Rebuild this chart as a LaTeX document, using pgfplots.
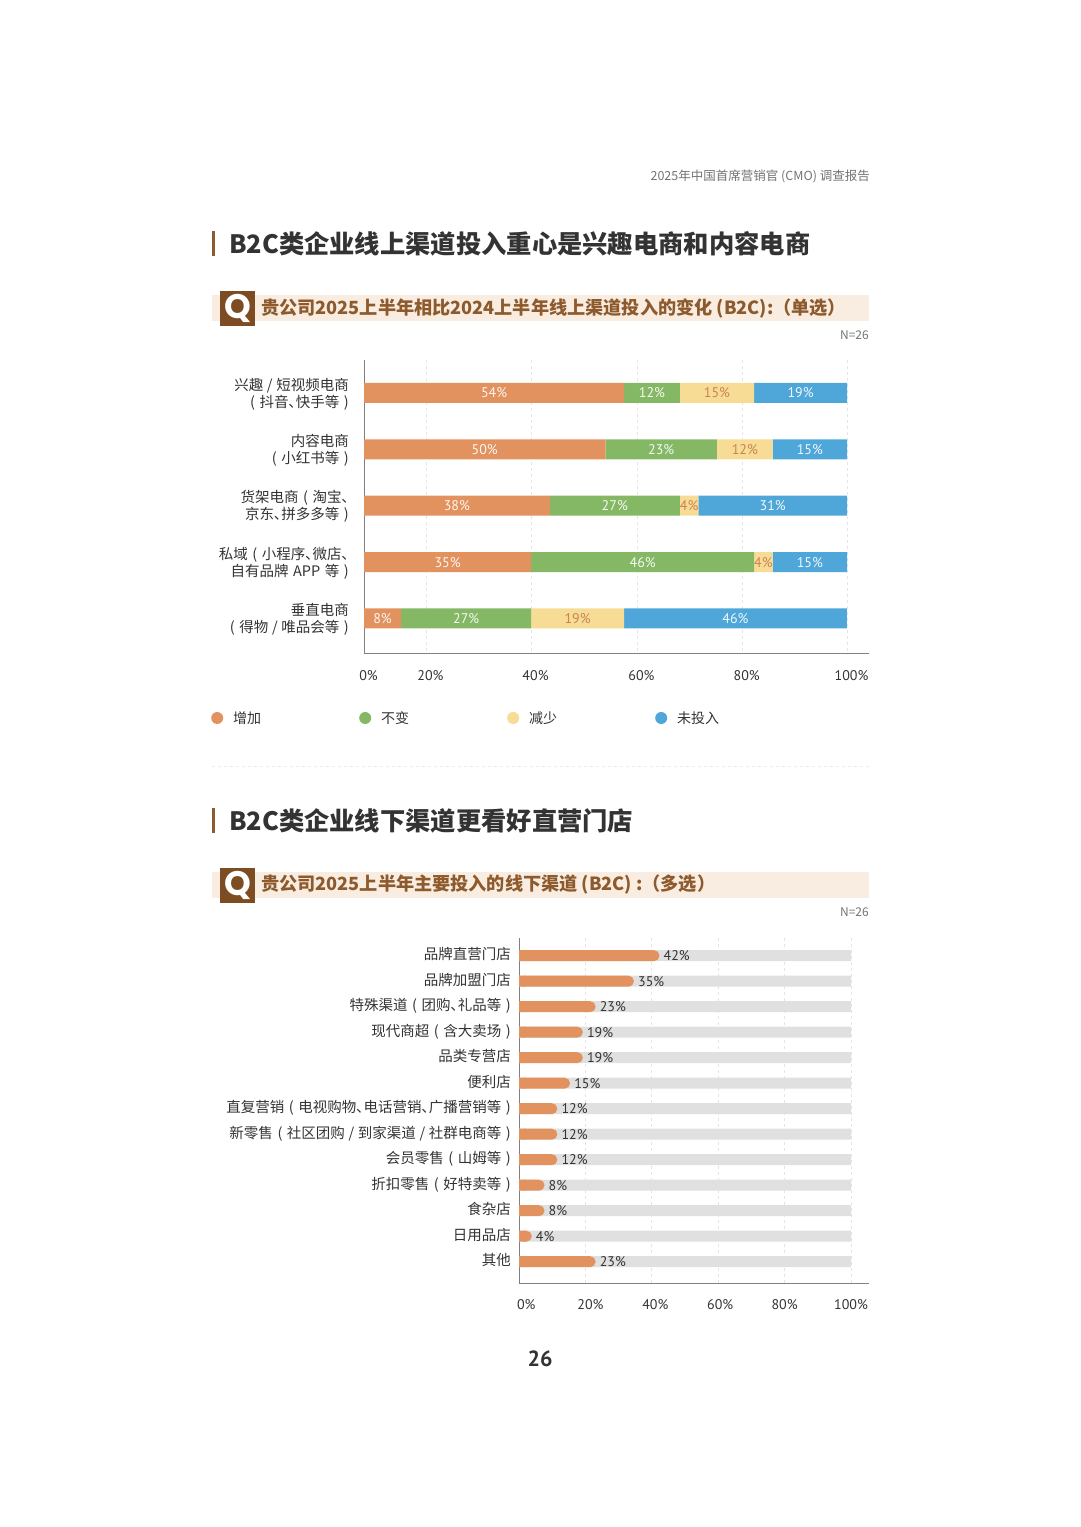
\documentclass[border=0pt]{standalone}
\usepackage{pgfplots}
\usepackage{pgfplotstable}
\usepackage{fontspec}
\pgfplotsset{compat=1.18}
\setmainfont{Noto Sans CJK SC}
\newfontfamily\din{PT Sans}
\newfontfamily\qf{Poppins}
\newfontfamily\lab[RawFeature=+palt,WordSpace=1.4]{Noto Sans CJK SC}
\definecolor{corange}{HTML}{E2925F}
\definecolor{cgreen}{HTML}{84B865}
\definecolor{cyellow}{HTML}{F7DC95}
\definecolor{cblue}{HTML}{4FA6D9}
\definecolor{brownA}{HTML}{7E4C22}
\definecolor{brownT}{HTML}{8C5A2C}
\definecolor{band}{HTML}{F9ECE1}
\definecolor{txt}{HTML}{333333}
\newcommand{\slh}{\hspace{.25em}/\hspace{.25em}}
\pgfplotstableread{
y inc same dec none
0 53.85 11.54 15.38 19.23
1 50.00 23.08 11.54 15.38
2 38.46 26.92 3.85 30.77
3 34.62 46.15 3.85 15.38
4 7.69 26.92 19.23 46.15
}\stackdata
\pgfplotstableread{
y val full
0 42.31 100
1 34.62 100
2 23.08 100
3 19.23 100
4 19.23 100
5 15.38 100
6 11.54 100
7 11.54 100
8 11.54 100
9 7.69 100
10 7.69 100
11 3.85 100
12 23.08 100
}\chandata
\pgfplotsset{
 base/.style={
  scale only axis, y dir=reverse,
  axis x line*=bottom, axis y line*=left,
  axis line style={draw=black!50,line width=1pt,-},
  major tick length=0pt,
  xmajorgrids,
  grid style={dashed,draw=black!10,line width=0.8pt},
  /pgf/number format/assume math mode=true,
  ytick style={draw=none},xtick style={draw=none},
 },
 seg/.style 2 args={fill=#1,draw=none,
  point meta=\thisrow{#2},
  nodes near coords={{\din\pgfmathprintnumber[fixed,precision=0]{\pgfplotspointmeta}\%}},
  every node near coord/.append style={anchor=center,inner sep=0pt,font=\fontsize{14pt}{14pt}\selectfont,
   text=white!92!#1},
 },
}
\newcommand{\hdr}[4]{%
 \fill[brownT] (212,{1527-#1-12.5}) rectangle (215,{1527-#1+12.5});
 \node[anchor=west,inner sep=0pt,text=txt,font=\bfseries\fontsize{25.3pt}{26pt}\selectfont] at (229,{1527-#1}) {#3};
 \fill[band] (212,{1527-#2-13}) rectangle (869,{1527-#2+13});
 \fill[brownA] (220,{1527-#2-18}) rectangle (255,{1527-#2+17});
 \node[inner sep=0pt,text=white,font=\qf\bfseries\fontsize{34pt}{34pt}\selectfont] at (237.5,{1527-#2}) {Q};
 \node[anchor=west,inner sep=0pt,text=brownT,font=\bfseries\fontsize{18.15pt}{19pt}\selectfont] at (261,{1527-#2}) {#4};
 \node[anchor=east,inner sep=0pt,text=black!55,font=\fontsize{12pt}{12pt}\selectfont] at (869,{1527-#2-27}) {N=26};
}
\begin{document}
\begin{tikzpicture}[x=1pt,y=1pt]
\path[use as bounding box] (0,0) rectangle (1080,1527);
\node[anchor=east,inner sep=0pt,text=black!55,font=\fontsize{12.5pt}{13pt}\selectfont] at (870,1351) {2025年中国首席营销官 (CMO) 调查报告};
\hdr{244}{308}{B2C类企业线上渠道投入重心是兴趣电商和内容电商}{贵公司2025上半年相比2024上半年线上渠道投入的变化 (B2C):（单选）}
\draw[black!8,dashed,line width=0.8pt] (212,761) -- (870,761);
\hdr{821}{885}{B2C类企业线下渠道更看好直营门店}{贵公司2025上半年主要投入的线下渠道 (B2C) :（多选）}
\node[inner sep=0pt,text=txt,font=\fontsize{22pt}{22pt}\selectfont] at (540,168) {\din\bfseries 26};

\begin{axis}[base,
 at={(364pt,873pt)},anchor=south west,width=505pt,height=294pt,
 xbar stacked,bar width=20pt,
 xmin=0,xmax=104.55,ymin=-0.585,ymax=4.63,
 xtick={0,12.84,34.58,56.5,78.3,100},
 xticklabels={0\%,20\%,40\%,60\%,80\%,100\%},
 xticklabel style={xshift=4.5pt,inner sep=0pt,yshift=-16pt,text=txt,font=\din\fontsize{14pt}{14pt}\selectfont},
 ytick={0,1,2,3,4},
 yticklabels={{兴趣\slh 短视频电商\\( 抖音、快手等 )},{内容电商\\( 小红书等 )},{货架电商 ( 淘宝、\\京东、拼多多等 )},{私域 ( 小程序、微店、\\自有品牌 APP 等 )},{垂直电商\\( 得物\slh 唯品会等 )}},
 yticklabel style={align=right,inner sep=0pt,xshift=-15pt,yshift=-1pt,text=txt,font=\lab\fontsize{14.5pt}{17pt}\selectfont},
 legend columns=4,
 legend cell align=left,
 legend style={at={(-153pt,-358pt)},anchor=west,draw=none,fill=none,inner sep=0pt,
  font=\fontsize{14pt}{14pt}\selectfont,text=txt,
  /tikz/every even column/.style={column sep=0pt}},
 legend image code/.code={\fill[#1] (0pt,0pt) circle (6pt);},
]
\addplot[seg={corange}{inc}] table[x=inc,y=y]{\stackdata};
\addlegendentry{\makebox[132pt][l]{\hspace{8pt}增加}}
\addplot[seg={cgreen}{same}] table[x=same,y=y]{\stackdata};
\addlegendentry{\makebox[132pt][l]{\hspace{8pt}不变}}
\addplot[seg={cyellow}{dec},every node near coord/.append style={text=corange!90!black}] table[x=dec,y=y]{\stackdata};
\addlegendentry{\makebox[132pt][l]{\hspace{8pt}减少}}
\addplot[seg={cblue}{none}] table[x=none,y=y]{\stackdata};
\addlegendentry{\makebox[60pt][l]{\hspace{8pt}未投入}}
\end{axis}

\begin{axis}[base,
 at={(519pt,244pt)},anchor=south west,width=350pt,height=345pt,
 xbar,bar width=11pt,bar shift=0pt,
 xmin=0,xmax=105.4,ymin=-0.694,ymax=12.835,
 xtick={0.1,20,40,60,80,100},
 xticklabels={\hspace*{14pt}0\%,\hspace*{10pt}20\%,\hspace*{7pt}40\%,\hspace*{4pt}60\%,80\%,100\%},
 xticklabel style={inner sep=0pt,yshift=-16pt,text=txt,font=\din\fontsize{14pt}{14pt}\selectfont},
 ytick={0,...,12},
 yticklabels={品牌直营门店,品牌加盟门店,特殊渠道 ( 团购、礼品等 ),现代商超 ( 含大卖场 ),品类专营店,便利店,直复营销 ( 电视购物、电话营销、广播营销等 ),新零售 ( 社区团购\slh 到家渠道\slh 社群电商等 ),会员零售 ( 山姆等 ),折扣零售 ( 好特卖等 ),食杂店,日用品店,其他},
 yticklabel style={inner sep=0pt,xshift=-8pt,text height=10pt,text depth=3pt,yshift=-0.5pt,text=txt,font=\lab\fontsize{14.5pt}{14pt}\selectfont},
]
\addplot[fill=black!12,draw=none] table[x=full,y=y]{\chandata};
\addplot[fill=corange,draw=none,rounded corners=5.5pt,
 point meta=\thisrow{val},
 nodes near coords={{\din\pgfmathprintnumber[fixed,precision=0]{\pgfplotspointmeta}\%}},
 every node near coord/.append style={anchor=west,inner sep=0pt,xshift=4pt,text=txt,font=\fontsize{14pt}{14pt}\selectfont},
] table[x=val,y=y]{\chandata};
\addplot[fill=corange,draw=none] coordinates {(2,0)(2,1)(2,2)(2,3)(2,4)(2,5)(2,6)(2,7)(2,8)(2,9)(2,10)(2,11)(2,12)};
\end{axis}
\end{tikzpicture}
\end{document}
